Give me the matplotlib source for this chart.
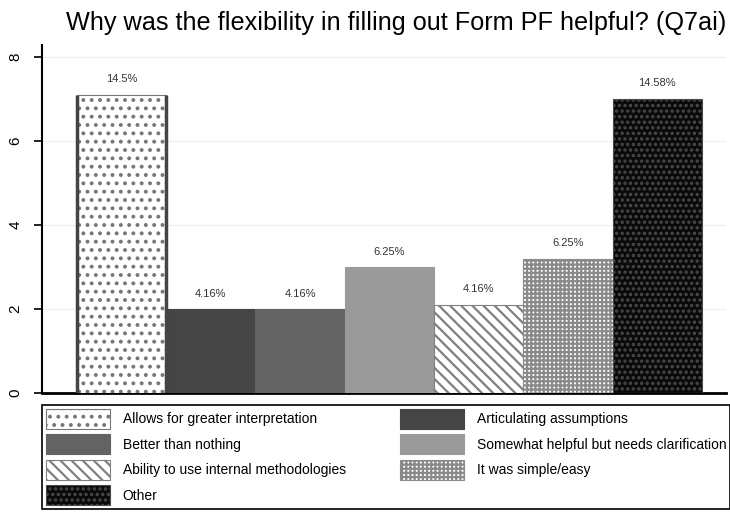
import matplotlib.pyplot as plt

plt.rcParams['font.family'] = ['Liberation Sans', 'DejaVu Sans']
plt.rcParams['hatch.linewidth'] = 1.6

categories = ['Allows for greater interpretation', 'Articulating assumptions',
              'Better than nothing', 'Somewhat helpful but needs clarification',
              'Ability to use internal methodologies', 'It was simple/easy', 'Other']
counts = [7.1, 2.0, 2.0, 3.0, 2.1, 3.2, 7.0]
pct_labels = ['14.5%', '4.16%', '4.16%', '6.25%', '4.16%', '6.25%', '14.58%']

faces = ['white', '#454545', '#636363', '#9a9a9a', 'white', 'white', '#0a0a0a']
hatches = ['..', None, None, None, '\\\\\\', '++++', '...']
hatch_cols = ['#777777', '#454545', '#636363', '#9a9a9a', '#808080', '#8a8a8a', '#4a4a4a']

fig = plt.figure(figsize=(7.3, 5.14), dpi=100)
ax = fig.add_axes([0.0575, 0.235, 0.937, 0.678])

bars = []
for i, (v, fc, h, hc) in enumerate(zip(counts, faces, hatches, hatch_cols)):
    b = ax.bar(i, v, width=1.0, color=fc, hatch=h, edgecolor=hc, linewidth=0.8,
               label=categories[i], zorder=3)
    bars.append(b[0])
    ax.text(i, v + 0.25, pct_labels[i], ha='center', va='bottom', fontsize=8,
            color='#333333')

# darker sides on the first bar
b0 = bars[0]
ax.vlines([b0.get_x(), b0.get_x() + b0.get_width()], 0, counts[0],
          color='#444444', linewidth=2.5, zorder=4)

ax.set_xlim(-0.89, 6.77)
ax.set_ylim(0, 8.29)
ax.set_yticks([0, 2, 4, 6, 8])
ax.set_yticklabels(['0', '2', '4', '6', '8'], rotation=90, va='center', fontsize=11)
ax.set_xticks([])
ax.grid(axis='y', color='#f0f0f0', linewidth=1, zorder=0)
for s in ['top', 'right']:
    ax.spines[s].set_visible(False)
ax.spines['left'].set_linewidth(1.5)
ax.spines['bottom'].set_linewidth(2)
ax.tick_params(axis='y', length=6, width=1.2, pad=8)

fig.text(0.543, 0.955, 'Why was the flexibility in filling out Form PF helpful? (Q7ai)',
         ha='center', va='center', fontsize=18.2)

order = [0, 2, 4, 6, 1, 3, 5]
leg = fig.legend([bars[k] for k in order], [categories[k] for k in order],
                 ncol=2, loc='upper left', bbox_to_anchor=(0.048, 0.226, 0.962, 0.0),
                 mode='expand', fontsize=10, handlelength=4.6, handleheight=1.8,
                 handletextpad=0.9, labelspacing=0.42, borderpad=0.3,
                 fancybox=False, edgecolor='black', framealpha=1)
leg.get_frame().set_linewidth(1.2)

fig.savefig('out.png', dpi=100)
